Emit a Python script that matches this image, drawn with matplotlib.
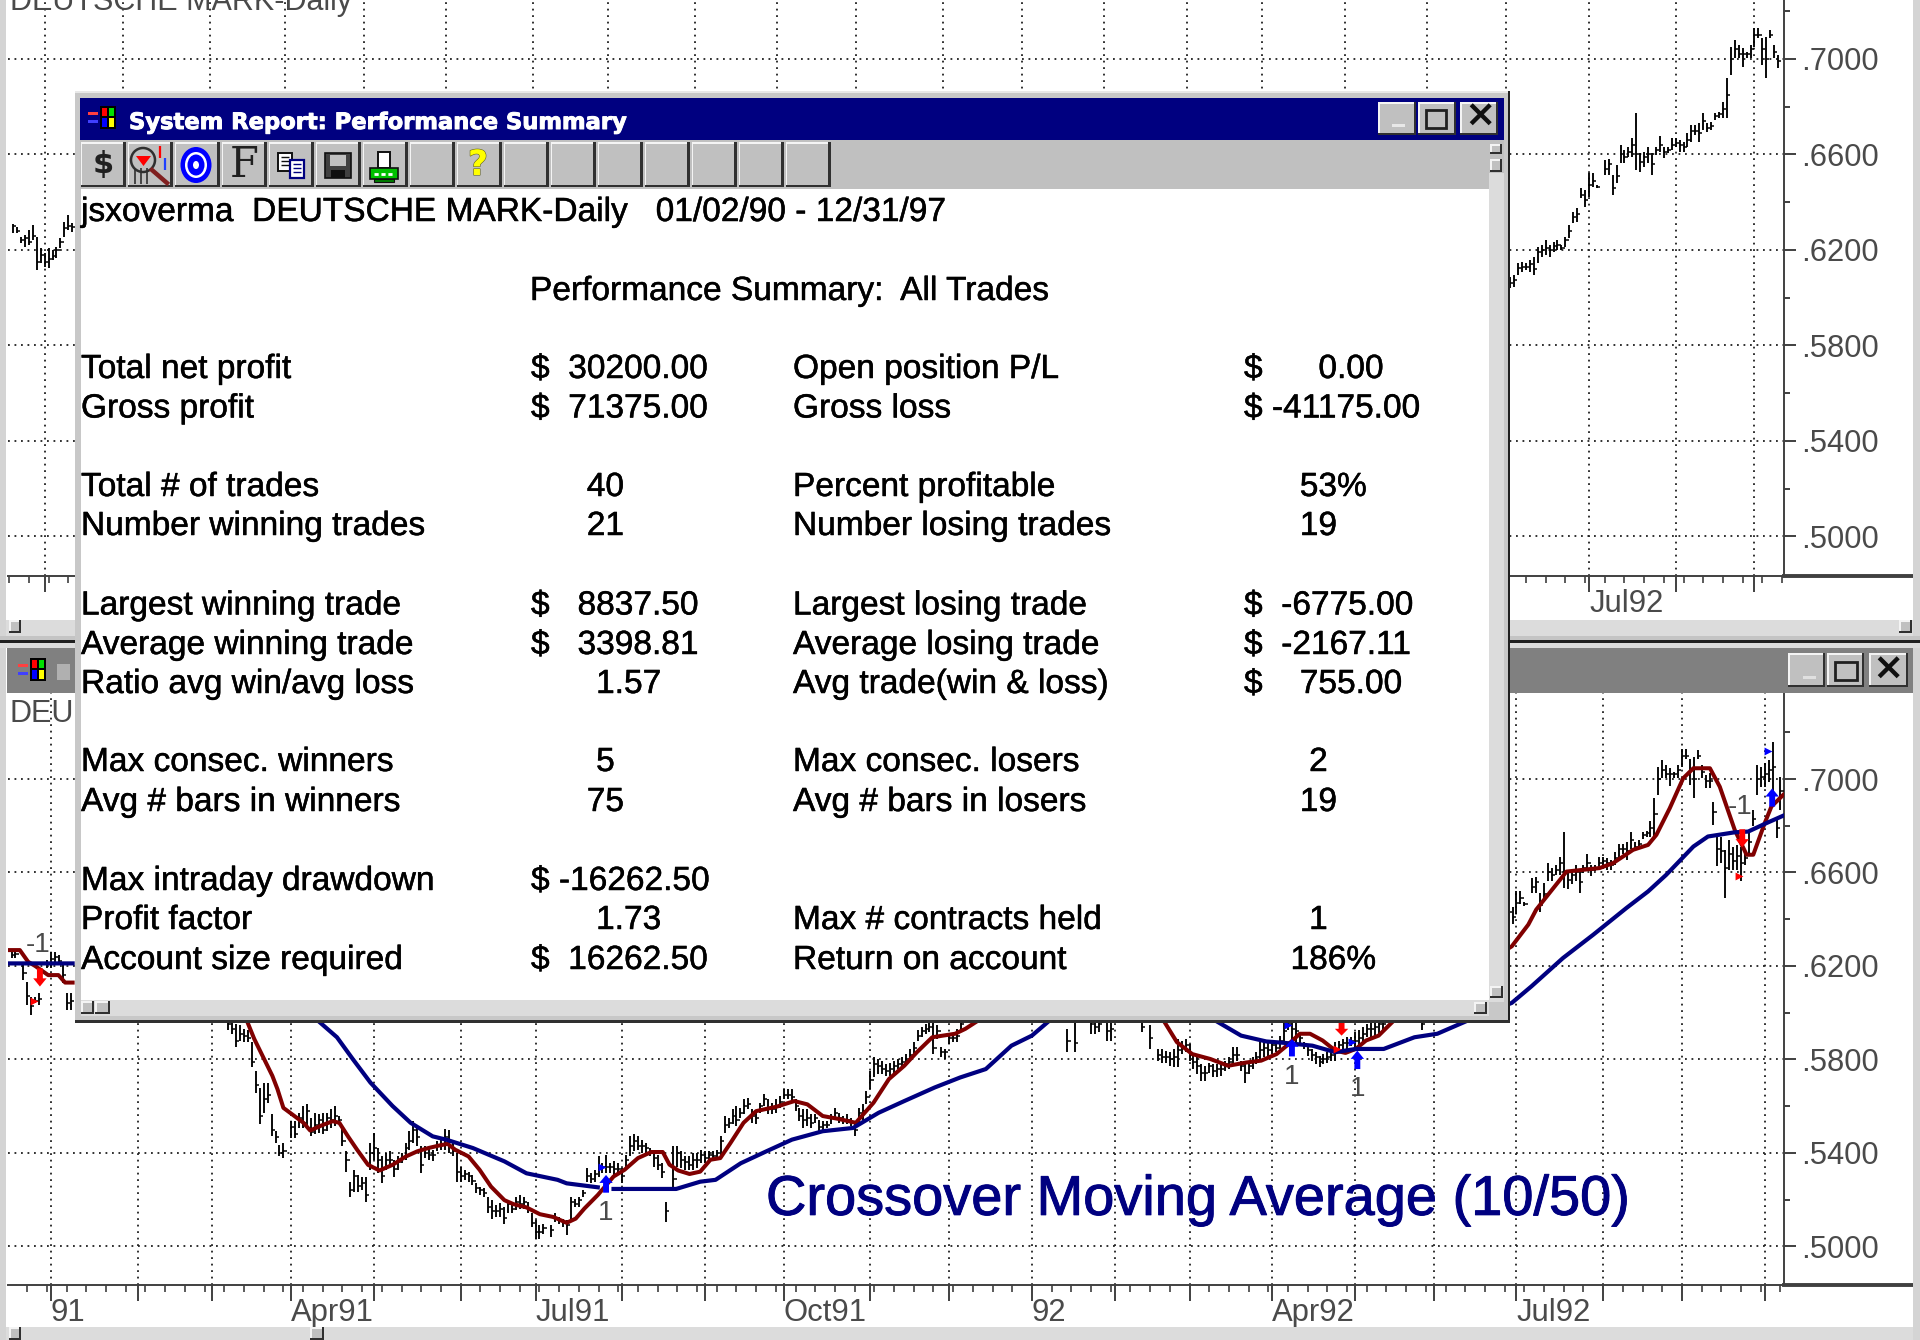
import numpy as np
import matplotlib
matplotlib.use('Agg')
import matplotlib.pyplot as plt
from matplotlib.patches import Rectangle, Circle, Ellipse, Polygon
from matplotlib.ticker import FixedLocator, FuncFormatter
import matplotlib.patheffects as pe

plt.rcParams['font.family'] = ['Liberation Sans', 'DejaVu Sans']
plt.rcParams['axes.linewidth'] = 1.4

# daily bars, prices in 1/10000 of a dollar; only the bars not covered by the report window
bar_days = [*range(-28, -12), -10, -9, -7, -6, -5, -4, -3, -1, 0, 1, 2, 3, 4, 5,
            *range(45, 60), *range(61, 126), *range(127, 157), *range(158, 232),
            258, 260, 264, 265, 266, 268, 269, 277, 279,
            *range(281, 339), 348, *range(352, 375), *range(376, 440)]
bar_high = [
    6309, 6298, 6256, 6263, 6284, 6305, 6256, 6207, 6186, 6207, 6200, 6214, 6249, 6319, 6347, 6312,
    6261, 6268, 6204, 6133, 6069, 6069, 6083, 6226, 6261, 6261, 6247, 6204, 6083, 6083,
    6003, 5974, 5953, 5946, 5931, 5924, 5874, 5752, 5680, 5701, 5701, 5565, 5493, 5435, 5443,
    5536, 5536, 5572, 5601, 5608, 5550, 5572, 5565, 5572, 5572,
    5586, 5601, 5558, 5514, 5407, 5277, 5328, 5306, 5299, 5299,
    5443, 5486, 5421, 5385, 5399, 5407, 5371, 5385, 5399, 5443,
    5493, 5536, 5514, 5428, 5428, 5421, 5414, 5450, 5457, 5503,
    5500, 5443, 5399, 5342, 5328, 5320, 5306, 5270, 5256, 5249,
    5213, 5198, 5177, 5184, 5170, 5198, 5191, 5213, 5220, 5213,
    5191, 5141, 5112, 5091, 5098,
    5091, 5141, 5126, 5119, 5112, 5213, 5205, 5213, 5241, 5335,
    5313, 5328, 5385, 5356, 5392, 5356, 5364, 5356, 5335, 5392,
    5471, 5479, 5471, 5457, 5443, 5421, 5399, 5392, 5356, 5191,
    5428, 5428, 5407, 5385, 5385, 5399, 5399, 5414, 5407, 5407,
    5407, 5414, 5471, 5558, 5550, 5586, 5601, 5593, 5629, 5637,
    5586, 5579, 5615, 5651, 5629, 5615, 5629, 5644, 5673, 5673,
    5673, 5629, 5593, 5586, 5586, 5565, 5565, 5543, 5536, 5536,
    5565, 5593, 5572, 5558, 5565, 5550, 5529, 5593, 5608, 5665,
    5752, 5809, 5802, 5795, 5780, 5787, 5795, 5802, 5809, 5823,
    5845, 5874, 5924, 5938, 5953, 5967, 5960, 5946, 5852, 5845,
    5910, 5910, 5931, 5967,
    5931, 5989, 5989, 5989, 5989, 5989, 5989, 5989, 5946,
    5845, 5845, 5838, 5831, 5845, 5888, 5881, 5888, 5867, 5823,
    5809, 5780, 5773, 5787, 5780, 5780, 5787, 5795, 5809, 5852,
    5852, 5795, 5787, 5787, 5809, 5831, 5874, 5881, 5874, 5881,
    5874, 5902, 5967, 5989, 5989, 5989, 5917, 5874, 5859, 5845,
    5831, 5816, 5823, 5831, 5845, 5874, 5881, 5888, 5895, 5895,
    5917, 5924, 5938, 5953, 5967, 5989, 5989, 5989,
    5989,
    6088, 6095, 6144, 6151, 6144, 6158, 6172, 6213, 6220, 6241,
    6220, 6234, 6241, 6220, 6255, 6304, 6360, 6374, 6458, 6451, 6521, 6521, 6472,
    6577, 6580, 6514, 6556, 6640, 6619, 6633, 6668, 6772, 6605,
    6612, 6633, 6605, 6633, 6677, 6633, 6633, 6668, 6668, 6661,
    6654, 6688, 6723, 6723, 6730, 6772, 6730, 6737, 6772, 6779,
    6821, 6919, 7052, 7080, 7059, 7045, 7031, 7059, 7129, 7129,
    7087, 7094, 7122, 7059, 7017,
    7024, 6903, 6761, 6754, 6697, 6740, 6711, 6718, 6711, 6683,
    6768, 6868, 7060, 7053, 7067, 7081, 7159, 6832, 7010]
bar_low = [
    6270, 6270, 6228, 6214, 6221, 6242, 6116, 6144, 6130, 6123, 6158, 6165, 6207, 6256, 6284, 6277,
    6233, 6233, 6140, 6033, 5990, 6040, 6033, 6190, 6190, 6219, 6204, 6126, 6012, 6012,
    5924, 5910, 5852, 5881, 5874, 5874, 5766, 5658, 5522, 5572, 5615, 5471, 5443, 5385, 5378,
    5464, 5464, 5507, 5507, 5507, 5471, 5479, 5486, 5479, 5493,
    5507, 5514, 5522, 5428, 5320, 5213, 5234, 5234, 5241, 5191,
    5328, 5371, 5313, 5270, 5328, 5342, 5299, 5328, 5356, 5371,
    5414, 5443, 5428, 5313, 5378, 5371, 5364, 5407, 5414, 5414,
    5399, 5385, 5277, 5277, 5285, 5277, 5263, 5227, 5220, 5213,
    5141, 5119, 5126, 5126, 5098, 5141, 5141, 5155, 5162, 5162,
    5141, 5083, 5033, 5033, 5055,
    5040, 5105, 5098, 5083, 5047, 5105, 5170, 5170, 5213, 5277,
    5270, 5277, 5299, 5313, 5313, 5313, 5299, 5306, 5270, 5335,
    5385, 5407, 5414, 5399, 5392, 5385, 5342, 5328, 5292, 5105,
    5249, 5342, 5335, 5328, 5328, 5328, 5335, 5356, 5356, 5371,
    5371, 5378, 5385, 5486, 5507, 5522, 5514, 5550, 5565, 5586,
    5529, 5522, 5572, 5601, 5565, 5565, 5572, 5593, 5629, 5629,
    5622, 5579, 5536, 5507, 5514, 5507, 5529, 5493, 5493, 5507,
    5522, 5543, 5529, 5522, 5522, 5514, 5471, 5529, 5543, 5608,
    5673, 5723, 5737, 5737, 5730, 5730, 5730, 5759, 5773, 5780,
    5795, 5816, 5881, 5895, 5910, 5917, 5823, 5888, 5809, 5802,
    5867, 5874, 5874, 5924,
    5831, 5831, 5910, 5910, 5917, 5881, 5881, 5917, 5845,
    5795, 5787, 5787, 5773, 5766, 5766, 5823, 5831, 5795, 5759,
    5737, 5708, 5708, 5744, 5723, 5723, 5730, 5752, 5759, 5780,
    5795, 5752, 5701, 5737, 5759, 5780, 5802, 5809, 5809, 5823,
    5831, 5845, 5874, 5924, 5888, 5874, 5867, 5845, 5816, 5795,
    5780, 5766, 5780, 5787, 5795, 5795, 5838, 5845, 5845, 5859,
    5845, 5845, 5874, 5895, 5895, 5902, 5910, 5917,
    5924,
    6039, 6046, 6095, 6109, 6116, 6109, 6095, 6144, 6172, 6179,
    6172, 6193, 6199, 6199, 6213, 6248, 6311, 6318, 6416, 6381, 6423, 6465, 6458,
    6514, 6514, 6430, 6479, 6563, 6563, 6591, 6591, 6535, 6528,
    6549, 6563, 6514, 6598, 6612, 6584, 6605, 6619, 6633, 6612,
    6612, 6633, 6654, 6681, 6654, 6702, 6695, 6702, 6744, 6751,
    6751, 6751, 6933, 7003, 7003, 6968, 7003, 7003, 7052, 7087,
    6975, 6919, 7087, 7003, 6961,
    6960, 6804, 6626, 6640, 6491, 6612, 6612, 6612, 6562, 6633,
    6683, 6797, 6932, 6967, 6967, 6989, 6939, 6747, 6868]
bar_close = [
    6300, 6280, 6240, 6250, 6235, 6260, 6150, 6180, 6150, 6160, 6175, 6200, 6235, 6290, 6300, 6295,
    6245, 6250, 6170, 6070, 6030, 6050, 6060, 6210, 6230, 6240, 6220, 6160, 6040, 6050,
    5950, 5930, 5880, 5910, 5900, 5890, 5790, 5690, 5560, 5630, 5650, 5500, 5470, 5400, 5410,
    5510, 5480, 5550, 5530, 5580, 5490, 5520, 5540, 5500, 5550,
    5540, 5560, 5540, 5450, 5370, 5240, 5300, 5260, 5270, 5220,
    5400, 5420, 5370, 5300, 5370, 5370, 5330, 5360, 5380, 5420,
    5450, 5500, 5470, 5350, 5400, 5390, 5390, 5430, 5440, 5470,
    5430, 5410, 5320, 5300, 5310, 5300, 5280, 5250, 5240, 5230,
    5170, 5150, 5150, 5160, 5120, 5180, 5160, 5190, 5180, 5190,
    5160, 5100, 5060, 5060, 5080,
    5070, 5120, 5110, 5100, 5090, 5190, 5180, 5200, 5230, 5300,
    5290, 5310, 5340, 5340, 5340, 5340, 5330, 5330, 5300, 5370,
    5430, 5450, 5430, 5430, 5420, 5400, 5380, 5350, 5320, 5150,
    5290, 5400, 5370, 5360, 5350, 5370, 5370, 5390, 5380, 5390,
    5385, 5400, 5450, 5520, 5530, 5560, 5540, 5570, 5600, 5610,
    5560, 5550, 5600, 5630, 5590, 5590, 5600, 5620, 5650, 5650,
    5640, 5600, 5560, 5540, 5550, 5530, 5550, 5510, 5520, 5520,
    5550, 5570, 5550, 5540, 5540, 5530, 5500, 5570, 5580, 5640,
    5710, 5780, 5770, 5760, 5750, 5760, 5770, 5780, 5790, 5800,
    5820, 5850, 5900, 5920, 5930, 5940, 5850, 5920, 5830, 5830,
    5890, 5890, 5900, 5950,
    5880, 5870, 5950, 5940, 5950, 5920, 5930, 5940, 5890,
    5820, 5810, 5810, 5800, 5810, 5840, 5850, 5860, 5820, 5790,
    5770, 5740, 5740, 5770, 5750, 5760, 5760, 5780, 5790, 5820,
    5820, 5770, 5740, 5770, 5790, 5810, 5840, 5850, 5840, 5860,
    5850, 5880, 5920, 5950, 5930, 5920, 5890, 5860, 5840, 5820,
    5810, 5790, 5800, 5810, 5820, 5830, 5860, 5870, 5870, 5880,
    5880, 5890, 5910, 5930, 5930, 5940, 5950, 5950,
    5950,
    6060, 6075, 6125, 6130, 6130, 6140, 6120, 6190, 6200, 6210,
    6200, 6215, 6220, 6210, 6240, 6280, 6340, 6350, 6430, 6410, 6470, 6490, 6465,
    6540, 6560, 6460, 6510, 6600, 6590, 6610, 6640, 6600, 6570,
    6590, 6600, 6560, 6620, 6640, 6610, 6620, 6640, 6650, 6640,
    6630, 6660, 6700, 6700, 6690, 6740, 6710, 6720, 6760, 6770,
    6790, 6850, 7000, 7040, 7020, 7020, 7020, 7040, 7100, 7100,
    7040, 7000, 7100, 7030, 6990,
    6990, 6860, 6700, 6690, 6620, 6680, 6650, 6670, 6640, 6660,
    6730, 6830, 7000, 7010, 7020, 7040, 7050, 6790, 6950]

nan = float('nan')
# 10 day average, parts behind the window left out
red_days = [-10.4, -7.9, -5.8, -4, -0.7, 1.9, 3.6, 5.5, nan,
            49.7, 51.6, 53.9, 56.2, 57.5, 59, 61.8, 64.1, 65.8, 68.6, 71.5, 73.2, 75.4, 77.7, 80.5, 83.4,
            86.7, 90.1, 93, 95.8, 98.6, 100.7, 102.6, 106, 108.8, 111.7, 115.1, 117.4, 120.7, 124.1,
            127.5, 130.9, 133.2, 135.4, 138.8, 142.8, 145.6, 149, 152.4, 155.3, 157, 159.2, 162.1, 164.8,
            167.4, 169.9, 172.5, 175.8, 179, 184.2, 188.7, 192, 195.9, 199.8, 204.3, 208.8, 212.7, 216.6,
            219.8, 223.7, 229.5, 232.1, 235.4, nan,
            282.4, 285.8, 289.7, 294.3, 298.8, 303.4, 307.2, 311.1, 313.7, 317, 319.6, 322.8, 326, 328.6,
            331.2, 333.8, 337, 340.9, 370.8, 375, 377, 384.7, 393.1, 396.5, 401.6, 405.4, 407.5, 410.9,
            414.3, 416.9, 421.1, 423.6, 427.4, 430.4, 432.1, 435, 436.7, 439.7]
red_vals = [6268, 6268, 6218, 6200, 6161, 6161, 6129, 6129, nan,
            5967, 5888, 5809, 5730, 5673, 5593, 5558, 5529, 5496, 5517, 5536, 5529, 5471, 5414, 5349, 5325,
            5349, 5385, 5407, 5421, 5432, 5439, 5414, 5385, 5328, 5256, 5198, 5181, 5167, 5138,
            5126, 5101, 5119, 5162, 5220, 5299, 5328, 5378, 5404, 5404, 5350, 5325, 5310, 5320,
            5371, 5378, 5443, 5529, 5579, 5598, 5622, 5608, 5558, 5546, 5529, 5615, 5716, 5773,
            5831, 5895, 5910, 5931, 5967, nan,
            5967, 5874, 5823, 5802, 5773, 5787, 5795, 5823, 5859, 5910, 5910, 5881, 5838, 5828,
            5845, 5881, 5902, 5967, 6284, 6377, 6441, 6604, 6619, 6640, 6697, 6718, 6761, 6875,
            7003, 7046, 7046, 6967, 6782, 6676, 6676, 6811, 6882, 6932]
# 50 day average
blue_days = [-10.4, 5.5, nan,
             67.7, 72.6, 76.6, 81.1, 86.7, 91.3, 96.9, 100.3, 107.1, 115.1, 120.7, 128.6, 130.9, 138.8, nan,
             142.8, 158.7, 164.8, 168.7, 175.1, 181.6, 188.1, 195.9, 203.6, 210.1, 216.6, 224.3, 230.8,
             237.3, 243.8, 249, 253.5, nan,
             295.5, 302.1, 308.5, 313.1, 320.2, 326, 331.2, 338.3, 346.1, 351.9, 359.7, 370.8, 375.8,
             383.8, 391.5, 399.9, 405.4, 410, 416.9, 420.6, 427.4, 430.8, 435.4, 439.7]
blue_vals = [6211, 6211, nan,
             5967, 5895, 5802, 5701, 5601, 5529, 5471, 5457, 5421, 5364, 5313, 5285, 5270, 5253, nan,
             5246, 5246, 5277, 5285, 5356, 5407, 5457, 5493, 5507, 5572, 5622, 5680, 5723,
             5759, 5859, 5902, 5967, nan,
             5967, 5902, 5877, 5871, 5859, 5831, 5845, 5845, 5895, 5910, 5967, 6042, 6113,
             6234, 6334, 6448, 6519, 6590, 6711, 6754, 6772, 6775, 6811, 6843]

# trade signals
buy_days = [140.9, 315, 331.6, 436.9]
buy_tail = [5230, 5813, 5759, 6882]
buy_tip = [5306, 5888, 5838, 6960]
sell_days = [-2.8, 327.6, 429.3]
sell_tail = [6190, 5967, 6785]
sell_tip = [6112, 5902, 6708]
entry_days = [140, 314.1, 330.3, 435.8]
entry_vals = [5342, 5946, 5874, 7120]
exit_days = [-4.3, 326.5, 428.5]
exit_vals = [6052, 5845, 6583]
size_days = [140.8, 315, 331.6, -3.2, 428.7]
size_vals = [5141, 5723, 5675, 6290, 6882]
size_text = ['1', '1', '1', '-1', '-1']

# first trading day of each month, Jan91 = 0
month_days = [0, 22, 41, 61, 82, 104, 123, 145, 166, 186, 208, 228, 249, 270, 289, 310, 331, 351, 372, 394, 414, 435]
month_labels = ['91', '', '', 'Apr91', '', '', 'Jul91', '', '', 'Oct91', '', '', '92', '', '', 'Apr92', '', '', 'Jul92', '', '', '']
# upper chart: one month earlier at the left, and only Jul92 clears the report window
top_grid_days = [-20] + month_days[:-1]
top_labels = [''] * 19 + ['Jul92', '', '']
y_major = [5000, 5400, 5800, 6200, 6600, 7000]
y_minor = [4800, 5200, 5600, 6000, 6400, 6800, 7200]

# report window text
report_rows = [367, 406.5, 485, 524, 603.5, 643, 682, 760, 800, 879, 918, 958]
left_labels = ['Total net profit', 'Gross profit', 'Total # of trades', 'Number winning trades',
               'Largest winning trade', 'Average winning trade', 'Ratio avg win/avg loss',
               'Max consec. winners', 'Avg # bars in winners', 'Max intraday drawdown',
               'Profit factor', 'Account size required']
left_values = ['$  30200.00', '$  71375.00', '      40', '      21', '$   8837.50', '$   3398.81',
               '       1.57', '       5', '      75', '$ -16262.50', '       1.73', '$  16262.50']
right_labels = ['Open position P/L', 'Gross loss', 'Percent profitable', 'Number losing trades',
                'Largest losing trade', 'Average losing trade', 'Avg trade(win & loss)',
                'Max consec. losers', 'Avg # bars in losers', '', 'Max # contracts held', 'Return on account']
right_values = ['$      0.00', '$ -41175.00', '      53%', '      19', '$  -6775.00', '$  -2167.11',
                '$    755.00', '       2', '      19', '', '       1', '     186%']

GRID = (0, (1, 2.6))
INK = '#4a4a4a'


def draw_chart(ax, xlim, ylim, minor_days, grid_days, labels, last_day):
    days = np.array(bar_days)
    keep = days <= last_day
    ax.vlines(days[keep], np.array(bar_low)[keep], np.array(bar_high)[keep], color='black', lw=1.35, zorder=3)
    ax.hlines(np.array(bar_close)[keep], days[keep], days[keep] + 0.8, color='black', lw=1.1, zorder=3)

    for d in grid_days:
        ax.axvline(d, color='#202020', lw=1.3, ls=GRID, zorder=1)
    for v in y_major:
        ax.axhline(v, color='#202020', lw=1.3, ls=GRID, zorder=1)

    for s in ['top', 'left']:
        ax.spines[s].set_visible(False)
    ax.spines['right'].set_color('#404040')
    ax.spines['bottom'].set_color('#404040')
    # the date axis line runs on under the price labels
    ax.plot([1, 1.0770], [0, 0], transform=ax.transAxes, color='#404040', lw=2.8, clip_on=False)

    ax.yaxis.tick_right()
    ax.yaxis.set_major_locator(FixedLocator(y_major))
    ax.yaxis.set_minor_locator(FixedLocator(y_minor))
    ax.yaxis.set_major_formatter(FuncFormatter(lambda v, pos: '.%d' % v))
    ax.tick_params(axis='y', which='major', length=8.6, width=1.4, color='#404040',
                   labelsize=22.2, labelcolor=INK, pad=3.5)
    ax.tick_params(axis='y', which='minor', length=4.3, width=1.4, color='#404040')

    ax.set_xticks(grid_days)
    ax.set_xticklabels(labels, ha='left')
    ax.set_xticks(list(minor_days), minor=True)
    ax.tick_params(axis='x', which='major', length=11.5, width=1.4, color='#404040',
                   labelsize=22.3, labelcolor=INK, pad=-2)
    ax.tick_params(axis='x', which='minor', length=5, width=1.2, color='#404040')
    # set_xticks widens the view, so the limits go last
    ax.set_xlim(xlim)
    ax.set_ylim(ylim)


def signal_arrow(ax, day, tail, tip, color):
    neck = tip + (tail - tip) * 0.45
    ax.add_patch(Polygon([[day - 0.75, tail], [day + 0.75, tail], [day + 0.75, neck], [day + 1.7, neck],
                          [day, tip], [day - 1.7, neck], [day - 0.75, neck]],
                         fc=color, ec='none', zorder=6))


fig = plt.figure(figsize=(19.2, 13.4), dpi=100)
W, H = 1920.0, 1340.0


def px_axes(x0, y0, x1, y1, **kw):
    return fig.add_axes([x0 / W, 1 - y1 / H, (x1 - x0) / W, (y1 - y0) / H], **kw)


ax_top = px_axes(8, 0, 1784, 576, zorder=1)
draw_chart(ax_top, (-29.3, 421.5), (4834, 7247), range(-29, 422, 5), top_grid_days, top_labels, 420)

ax_low = px_axes(8, 693, 1784, 1285, zorder=2)
draw_chart(ax_low, (-10.9, 439.9), (4835, 7368), range(-11, 440, 5), month_days, month_labels, 439)

ax_low.plot(red_days, red_vals, color='#800000', lw=2.9, zorder=4)
ax_low.plot(blue_days, blue_vals, color='#000080', lw=3.0, zorder=4)
for d, a, b in zip(buy_days, buy_tail, buy_tip):
    signal_arrow(ax_low, d, a, b, '#0000ff')
for d, a, b in zip(sell_days, sell_tail, sell_tip):
    signal_arrow(ax_low, d, a, b, '#ff0000')
ax_low.scatter(entry_days, entry_vals, marker='>', s=32, color='#0000ff', lw=0, zorder=6)
ax_low.scatter(exit_days, exit_vals, marker='>', s=32, color='#ff0000', lw=0, zorder=6)
for d, v, t in zip(size_days, size_vals, size_text):
    ax_low.text(d, v, t, ha='center', va='center', fontsize=20, color=INK, zorder=5)
ax_low.text(181.5, 5195, 'Crossover Moving Average (10/50)', color='#000080', fontsize=40.3,
            ha='left', va='center', zorder=5,
            path_effects=[pe.withStroke(linewidth=0.7, foreground='#000080')])

# window chrome, drawn in screen pixels on top of the charts
ui = fig.add_axes([0, 0, 1, 1], zorder=5)
ui.set_xlim(0, W)
ui.set_ylim(H, 0)
ui.axis('off')
ui.patch.set_alpha(0)


def box(x0, y0, x1, y1, color, z=2):
    ui.add_patch(Rectangle((x0, y0), x1 - x0, y1 - y0, fc=color, ec='none', zorder=z))


def button(x0, y0, x1, y1, z=4):
    box(x0, y0, x1, y1, '#c0c0c0', z)
    box(x0, y0, x1, y0 + 1.5, '#f4f4f4', z)
    box(x0, y0, x0 + 1.5, y1, '#f4f4f4', z)
    box(x0, y1 - 2.5, x1, y1, '#303030', z)
    box(x1 - 2.5, y0, x1, y1, '#303030', z)


def win_logo(x, y, z=6):
    box(x + 15, y + 1, x + 31, y + 24, 'black', z)
    box(x + 17, y + 3, x + 22, y + 11, '#ff0000', z)
    box(x + 24, y + 3, x + 29, y + 11, '#00e000', z)
    box(x + 17, y + 13, x + 22, y + 22, '#0000ff', z)
    box(x + 24, y + 13, x + 29, y + 22, '#ffff00', z)
    box(x + 3, y + 7, x + 13, y + 10, '#ff4040', z)
    box(x + 3, y + 15, x + 13, y + 18, '#4040ff', z)


# frames of the two chart windows
box(0, 0, 6, 1340, '#d4d4d4')
box(1913, 0, 1920, 1340, '#d4d4d4')
ui.text(10, 10, 'DEUTSCHE MARK-Daily', fontsize=22, color=INK, va='baseline', zorder=1)
ui.text(10, 722, 'DEU', fontsize=22, color=INK, va='baseline', zorder=1)
box(6, 620, 1913, 636, '#dcdcdc')
button(9, 620, 21, 633)
button(1899, 620, 1912, 633)
box(0, 636, 1920, 640, '#c4c4c4')
box(0, 640, 1920, 642.5, '#202020')
box(0, 642.5, 1920, 648, '#dcdcdc')
box(7, 648, 1913, 693, '#808080')
win_logo(15, 657)
box(57, 664, 70, 680, '#b0b0b0')
button(1788, 653, 1825, 687)
button(1827, 653, 1864, 687)
button(1869, 653, 1908, 687)
box(1803, 676, 1816, 678.5, '#e0e0e0', 5)
ui.add_patch(Rectangle((1835, 662), 22, 18, fc='none', ec='#202020', lw=2, zorder=5))
ui.text(1888, 670, '×', fontsize=27, fontweight='bold', color='#101010', ha='center', va='center', zorder=5, family='DejaVu Sans')
box(6, 1327, 1913, 1340, '#dcdcdc')
button(9, 1327, 21, 1340)
button(310, 1327, 324, 1340)

# report window
Z = 10
box(75, 91, 1510, 1023, '#c8c8c8', Z)
box(75, 91, 1510, 93, '#e8e8e8', Z)
box(1507.5, 91, 1510, 1023, '#202020', Z)
box(75, 1020, 1510, 1023, '#303030', Z)
box(80, 98, 1504, 140, '#000080', Z)
box(80, 140, 1504, 189, '#c0c0c0', Z)
box(1489, 173, 1504, 1002, '#dcdcdc', Z)
box(81, 189, 1489, 1000, 'white', Z)
box(81, 1000, 1489, 1016, '#dcdcdc', Z)
for bx in [1378, 1418, 1460]:
    button(bx, 102, bx + 38, 135, Z + 1)
box(1392, 124, 1405, 127, '#e8e8e8', Z + 2)
ui.add_patch(Rectangle((1426, 110), 20, 18, fc='none', ec='#202020', lw=2, zorder=Z + 2))
ui.text(1480, 117, '×', fontsize=27, fontweight='bold', color='#101010', ha='center', va='center',
        zorder=Z + 2, family='DejaVu Sans')
button(1490, 144, 1502, 154, Z + 1)
button(1490, 159, 1502, 172, Z + 1)
button(81, 1001, 94, 1014, Z + 1)
button(95, 1001, 110, 1014, Z + 1)
button(1474, 1002, 1487, 1014, Z + 1)
button(1490, 986, 1503, 998, Z + 1)
win_logo(85, 105, Z + 2)
ui.text(129, 122.5, 'System Report: Performance Summary', color='white', fontsize=16.3, fontweight='bold',
        family='DejaVu Sans', va='center', zorder=Z + 2,
        path_effects=[pe.withStroke(linewidth=0.7, foreground='white')])

for i in range(16):
    button(80.5 + 47 * i, 142, 80.5 + 47 * i + 45, 187, Z + 1)

tz = Z + 3
ui.text(103, 165, '$', fontsize=22, fontweight='bold', color='#202020', ha='center', va='center',
        family='DejaVu Sans', zorder=tz)
ui.add_patch(Circle((143, 160), 12, fc='#c0c0c0', ec='#303030', lw=1.8, zorder=tz))
ui.plot([152, 167], [170, 183], color='#802020', lw=3.2, zorder=tz)
ui.add_patch(Polygon([[136, 156], [151, 156], [143.5, 166]], fc='#ff0000', ec='none', zorder=tz))
ui.vlines([135, 141, 147], 168, 184, color='#303030', lw=1.2, zorder=tz)
ui.vlines([160], 146, 158, color='#ff0000', lw=1.6, zorder=tz)
ui.vlines([165], 158, 170, color='#2040ff', lw=1.6, zorder=tz)
ui.add_patch(Ellipse((196, 165), 31, 36, fc='#0000ff', ec='none', zorder=tz))
ui.add_patch(Ellipse((196, 165), 22, 26, fc='white', ec='none', zorder=tz))
ui.add_patch(Ellipse((196, 165), 17, 21, fc='#0000ff', ec='none', zorder=tz))
ui.add_patch(Ellipse((196, 165), 6, 8, fc='white', ec='none', zorder=tz))
ui.text(244, 165, 'F', fontsize=30, color='#202020', family='DejaVu Serif', ha='center', va='center', zorder=tz)
ui.add_patch(Rectangle((278, 153), 14, 18, fc='white', ec='#101010', lw=1.4, zorder=tz))
ui.add_patch(Rectangle((290, 160), 14, 18, fc='white', ec='#000080', lw=1.6, zorder=tz))
ui.hlines([164, 168, 172], 293, 301, color='#000080', lw=1, zorder=tz)
ui.hlines([157, 161, 165], 281, 289, color='#101010', lw=1, zorder=tz)
ui.add_patch(Rectangle((325, 153), 26, 25, fc='#404040', ec='#101010', lw=1.2, zorder=tz))
ui.add_patch(Rectangle((330, 155), 16, 11, fc='#c0c0c0', ec='none', zorder=tz))
ui.add_patch(Rectangle((331, 170), 14, 8, fc='#101010', ec='none', zorder=tz))
ui.add_patch(Rectangle((378, 152), 12, 16, fc='white', ec='#101010', lw=1.4, zorder=tz))
ui.add_patch(Rectangle((370, 168), 28, 11, fc='#00c000', ec='#101010', lw=1.2, zorder=tz))
ui.add_patch(Rectangle((374, 179), 20, 3, fc='#008000', ec='#101010', lw=0.8, zorder=tz))
ui.hlines([173.5], 374, 394, color='white', lw=2, ls=(0, (1.5, 1)), zorder=tz)
ui.text(478, 165, '?', fontsize=25, fontweight='bold', color='#ffff00', family='DejaVu Sans',
        ha='center', va='center', zorder=tz,
        path_effects=[pe.withStroke(linewidth=0.8, foreground='#606020')])

heavy = [pe.withStroke(linewidth=0.35, foreground='black')]
def line(x, y, s):
    ui.text(x, y + 2.5, s, fontsize=24.1, color='black', va='center', zorder=tz, path_effects=heavy)


line(81, 210, 'jsxoverma  DEUTSCHE MARK-Daily   01/02/90 - 12/31/97')
line(530, 289, 'Performance Summary:  All Trades')
for y, a, b, c, d in zip(report_rows, left_labels, left_values, right_labels, right_values):
    line(81, y, a)
    line(531, y, b)
    line(793, y, c)
    line(1244, y, d)

fig.savefig('out.png', dpi=100)
